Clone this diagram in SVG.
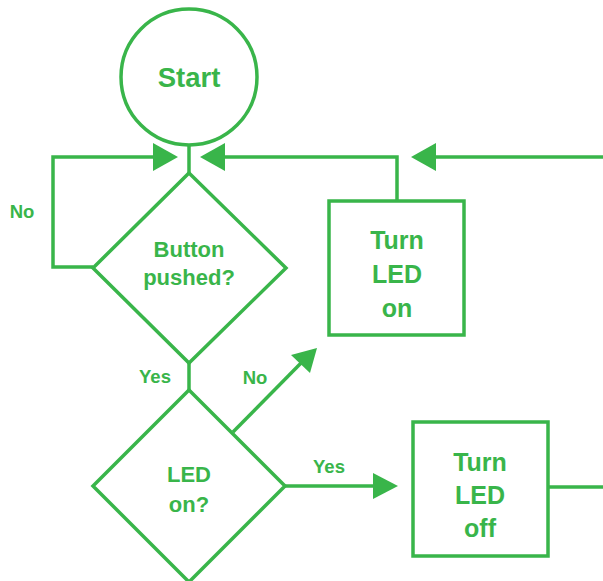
<svg xmlns="http://www.w3.org/2000/svg" width="603" height="581" viewBox="0 0 603 581">
  <style>
    .shape { fill: none; stroke: #39b54a; stroke-width: 3.5; }
    .wire { fill: none; stroke: #39b54a; stroke-width: 3.5; }
    .head { fill: #39b54a; stroke: none; }
    text { font-family: "Liberation Sans", Arial, sans-serif; font-weight: bold; fill: #39b54a; text-anchor: middle; }
    .big { font-size: 25px; }
    .mid { font-size: 22px; }
    .lbl { font-size: 18.5px; }
  </style>
  <rect width="603" height="581" fill="#ffffff"/>

  <!-- connectors -->
  <g id="connectors">
    <!-- start to first decision -->
    <path class="wire" d="M189 146 V173"/>
    <!-- "No" loop back above decision -->
    <path class="wire" d="M93 267 H53 V157 H160"/>
    <polygon class="head" points="178,157 153,143 153,171"/>
    <!-- return from "Turn LED on" -->
    <path class="wire" d="M397 200 V157 H220"/>
    <polygon class="head" points="200,157 225,143 225,171"/>
    <!-- return from "Turn LED off" -->
    <path class="wire" d="M603 157 H430"/>
    <polygon class="head" points="411,157 436,143 436,171"/>
    <!-- "Yes" down to second decision -->
    <path class="wire" d="M189 363 V390"/>
    <!-- "No" to Turn LED on -->
    <path class="wire" d="M233 432 L303 361"/>
    <polygon class="head" points="317,348 291,355 310,373"/>
    <!-- "Yes" to Turn LED off -->
    <path class="wire" d="M285 486 H378"/>
    <polygon class="head" points="398,486 373,473 373,499"/>
    <!-- Turn LED off onward -->
    <path class="wire" d="M548 487 H603"/>

    <text class="lbl" x="22" y="218">No</text>
    <text class="lbl" x="155" y="383">Yes</text>
    <text class="lbl" x="255" y="384">No</text>
    <text class="lbl" x="329" y="473">Yes</text>
  </g>

  <g id="start">
    <circle class="shape" cx="189" cy="77" r="68"/>
    <text x="189" y="87" style="font-size:27.5px">Start</text>
  </g>

  <g id="button-pushed">
    <polygon class="shape" points="189,173 286,268 189,363 93,268"/>
    <text class="mid" x="189" y="257">Button</text>
    <text class="mid" x="189" y="285">pushed?</text>
  </g>

  <g id="led-on-check">
    <polygon class="shape" points="189,390 285,486 189,582 93,486"/>
    <text class="mid" x="189" y="482">LED</text>
    <text class="mid" x="189" y="512">on?</text>
  </g>

  <g id="turn-led-on">
    <rect class="shape" x="329" y="201" width="135" height="134"/>
    <text class="big" x="397" y="249">Turn</text>
    <text class="big" x="397" y="283">LED</text>
    <text class="big" x="397" y="317">on</text>
  </g>

  <g id="turn-led-off">
    <rect class="shape" x="413" y="422" width="135" height="134"/>
    <text class="big" x="480" y="471">Turn</text>
    <text class="big" x="480" y="504">LED</text>
    <text class="big" x="480" y="537">off</text>
  </g>
</svg>
